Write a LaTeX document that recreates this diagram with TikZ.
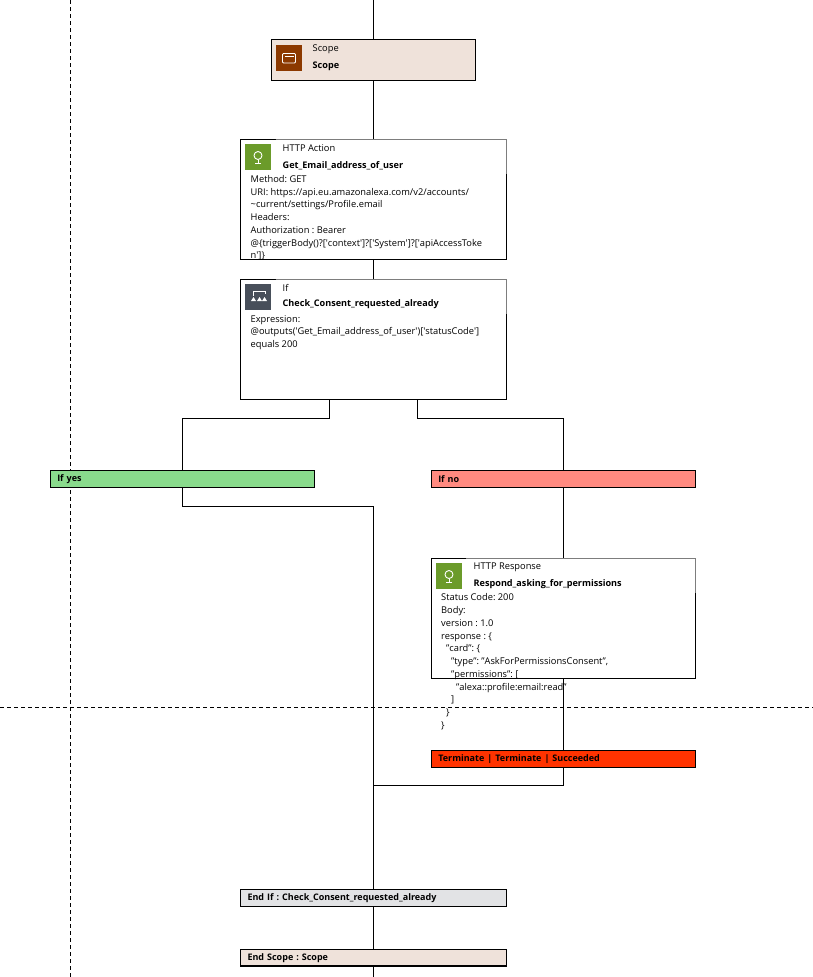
\documentclass[tikz,border=0pt]{standalone}
\usepackage{fontspec}
\setmainfont{Open Sans}
\usepackage{xcolor}
\usetikzlibrary{arrows}
\usetikzlibrary{positioning}
\definecolor{scopefill}{RGB}{239, 226, 218}
\definecolor{scopeicon}{RGB}{140, 57, 0}
\definecolor{httpicon}{RGB}{107, 155, 42}
\definecolor{ificon}{RGB}{72, 79, 90}
\definecolor{yesfill}{RGB}{137, 219, 140}
\definecolor{nofill}{RGB}{255, 138, 128}
\definecolor{termfill}{RGB}{255, 51, 0}
\definecolor{endfill}{RGB}{226, 227, 229}
\definecolor{edgegray}{RGB}{125, 125, 125}
\newcommand{\qs}{\textquotesingle}
\tikzset{
  flow/.style={line width=1.15pt,black},
  guide/.style={line width=.8pt,dash pattern=on 4pt off 3pt},
  card/.style={draw=black,line width=1.15pt,fill=white,anchor=north west,inner sep=0,outer sep=0,minimum width=266pt,minimum height=120pt},
  bar/.style={draw=black,line width=1.15pt,anchor=north west,outer sep=0,inner ysep=0,inner xsep=7pt,text width=250.5pt,minimum height=17pt,align=left,font=\fontsize{9}{11}\selectfont\bfseries},
  icon/.style={anchor=north west,inner sep=0,outer sep=0,minimum width=26pt,minimum height=26pt},
  kind/.style={anchor=west,inner sep=0,font=\fontsize{9.3}{11}\selectfont},
  title/.style={anchor=west,inner sep=0,font=\fontsize{9.1}{11}\selectfont\bfseries},
  body/.style={anchor=north west,inner sep=0,align=left,font=\fontsize{9.3}{12.75}\selectfont},
}
\begin{document}
\frenchspacing
\begin{tikzpicture}[x=1pt,y=-1pt]
  \useasboundingbox (0,0) rectangle (813,977);
  % lanes
  \coordinate (lanetop) at (70.5,0);
  \coordinate (lanebot) at (70.5,977);
  \coordinate (laneleft) at (0,707.5);
  \coordinate (laneright) at (813,707.5);
  \draw[guide] (lanetop) -- (lanebot);
  \draw[guide] (laneleft) -- (laneright);
  % boxes
  \node (scope) [card,fill=scopefill,minimum width=204pt,minimum height=41pt] at (271.5,39.5) {};
  \node (act) [card] at (240.5,139.5) {};
  \node (cond) [card] at (240.5,279.5) {};
  \node (yes) [bar,fill=yesfill] at (50.25,470.5) {If yes};
  \node (no) [bar,fill=nofill] at (431.25,470.5) {If no};
  \node (resp) [card,minimum width=264.5pt] at (431.25,558.5) {};
  \node (term) [bar,fill=termfill] at (431.25,750.5) {Terminate | Terminate | Succeeded};
  \node (endif) [bar,fill=endfill,text width=252pt] at (240.5,889.5) {End If : Check\_Consent\_requested\_already};
  \node (endscope) [bar,fill=scopefill,text width=252pt,minimum height=16.5pt] at (240.5,949.5) {End Scope : Scope};
  \coordinate (top) at (373.5,0);
  \coordinate (bottom) at (373.5,977);
  \coordinate (condl) at (329.5,399.5);
  \coordinate (condr) at (417.5,399.5);
  % connectors
  \path[flow]
    (top) edge (scope.north)
    (scope.south) edge (act.north)
    (act.south) edge (cond.north)
    (no.south) edge (resp.north)
    (resp.south) edge (term.north)
    (endif.south) edge (endscope.north)
    (endscope.south) edge (bottom);
  \draw[flow] (condl) -- ++(0,19) -| (yes.north);
  \draw[flow] (condr) -- ++(0,19) -| (no.north);
  \draw[flow] (yes.south) -- ++(0,19) -| (endif.north);
  \draw[flow] (term.south) -- ++(0,18) -| (endif.north);
  % gray top and side of the cards
  \foreach \card in {act,cond,resp}
    \draw[edgegray,line width=1pt] ([xshift=35pt]\card.north west) -- (\card.north east) -- ([yshift=-34pt]\card.north east);
  % icons
  \node (scopeic) [icon,fill=scopeicon] at (276,45) {};
  \node (actic) [icon,fill=httpicon] at (245,144) {};
  \node (condic) [icon,fill=ificon] at (245,284) {};
  \node (respic) [icon,fill=httpicon] at (436,563) {};
  \draw[white,line width=.8pt,rounded corners=1pt] (282.5,53.5) rectangle (295.5,63);
  \draw[white,line width=.8pt] (284.5,56.5) -- (293.5,56.5);
  \foreach \ic in {actic,respic} {
    \draw[white,line width=.9pt] ([yshift=1.5pt]\ic.center) circle (4pt);
    \draw[white,line width=.8pt] ([yshift=-3pt]\ic.center) -- ([yshift=-6pt]\ic.center);
    \draw[white,line width=.8pt] ([xshift=-3pt,yshift=-6pt]\ic.center) -- ([xshift=3pt,yshift=-6pt]\ic.center);
  }
  \draw[white,line width=.9pt] (253,296) -- (253,291.5) -- (265,291.5) -- (265,294);
  \fill[white] (251,301) -- (253.5,297) -- (256,301) -- cycle;
  \fill[white] (257,301) -- (259.5,297) -- (262,301) -- cycle;
  \fill[white] (262,301) -- (264.5,297) -- (267,301) -- cycle;
  % texts
  \node (scopekind) [kind] at (312.5,49.5) {Scope};
  \node (scopename) [title] at (312.5,66.5) {Scope};
  \node (actkind) [kind] at (282.5,148.5) {HTTP Action};
  \node (actname) [title] at (282.5,165.5) {Get\_Email\_address\_of\_user};
  \node (actbody) [body] at (250.5,175) {Method: GET\\
    URI: https://api.eu.amazonalexa.com/v2/accounts/\\
    \textasciitilde current/settings/Profile.email\\
    Headers:\\
    Authorization : Bearer\\
    @\{triggerBody()?[\qs context\qs]?[\qs System\qs]?[\qs apiAccessToke\\
    n\qs]\}};
  \node (condkind) [kind] at (282.5,287.5) {If};
  \node (condname) [title] at (282.5,304.5) {Check\_Consent\_requested\_already};
  \node (condbody) [body] at (250.5,315) {Expression:\\
    @outputs(\qs Get\_Email\_address\_of\_user\qs)[\qs statusCode\qs]\\
    equals 200};
  \node (respkind) [kind] at (473.5,567.5) {HTTP Response};
  \node (respname) [title] at (473.5,584.5) {Respond\_asking\_for\_permissions};
  \node (respbody) [body] at (441,593.5) {Status Code: 200\\
    Body:\\
    version : 1.0\\
    response : \{\\
    \hspace*{5pt}"card": \{\\
    \hspace*{10pt}"type": "AskForPermissionsConsent",\\
    \hspace*{10pt}"permissions": [\\
    \hspace*{15pt}"alexa::profile:email:read"\\
    \hspace*{10pt}]\\
    \hspace*{5pt}\}\\
    \}};
\end{tikzpicture}
\end{document}
